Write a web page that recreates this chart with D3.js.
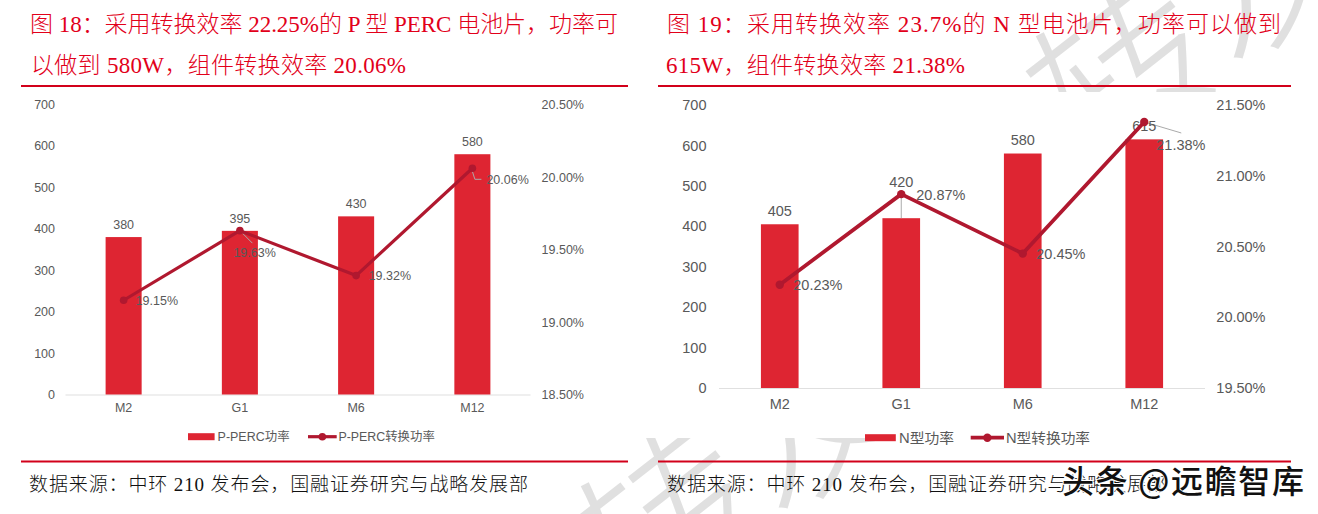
<!DOCTYPE html>
<html>
<head>
<meta charset="utf-8">
<script src="https://cdn.jsdelivr.net/npm/d3@7/dist/d3.min.js"></script>
<style>
html, body { margin: 0; padding: 0; background: #fff; }
svg { display: block; }
text { font-family: "Liberation Sans", "Noto Sans CJK SC", sans-serif; }
.head { font-family: "Liberation Serif", "Noto Sans CJK SC", serif; font-weight: 300; }
</style>
</head>
<body>
<svg id="page" width="1318" height="514"></svg>
<script>
// data
var categories = ["M2", "G1", "M6", "M12"];
var leftTicks = [0, 100, 200, 300, 400, 500, 600, 700];

var perPower = [380, 395, 430, 580];
var perEff = [19.15, 19.63, 19.32, 20.06];
var perEffTicks = [18.5, 19.0, 19.5, 20.0, 20.5];

var nPower = [405, 420, 580, 615];
var nEff = [20.23, 20.87, 20.45, 21.38];
var nEffTicks = [19.5, 20.0, 20.5, 21.0, 21.5];

var svg = d3.select("#page");

// grey watermark, only shows where the chart panels don't cover it
var defs = svg.append("defs");
defs.append("clipPath").attr("id", "wmClip")
    .selectAll("rect")
    .data([[0, 0, 1318, 92], [0, 438, 1318, 76]])
    .join("rect")
    .attr("x", function (d) { return d[0]; })
    .attr("y", function (d) { return d[1]; })
    .attr("width", function (d) { return d[2]; })
    .attr("height", function (d) { return d[3]; });

var wm = svg.append("g").attr("clip-path", "url(#wmClip)");
wm.append("text")
    .attr("transform", "translate(1095,175) rotate(-38)")
    .attr("font-size", 175).attr("fill", "#e0e0e0").attr("font-weight", 300)
    .style("font-family", "Noto Sans CJK SC")
    .text("转发");
wm.append("text")
    .attr("transform", "translate(640,625) rotate(-38)")
    .attr("font-size", 175).attr("fill", "#e0e0e0").attr("font-weight", 300)
    .style("font-family", "Noto Sans CJK SC")
    .text("转发");

function fitted(x, y, len, size, color, str) {
    svg.append("text")
        .attr("class", "head")
        .attr("x", x).attr("y", y)
        .attr("font-size", size)
        .attr("fill", color)
        .attr("textLength", len)
        .attr("lengthAdjust", "spacing")
        .attr("xml:space", "preserve")
        .style("white-space", "pre")
        .text(str);
}

function rule(x1, x2, y) {
    svg.append("line").attr("x1", x1).attr("x2", x2).attr("y1", y).attr("y2", y)
        .attr("stroke", "#d2001a").attr("stroke-width", 2);
}

function drawChart(c) {
    var g = svg.append("g");
    var x = d3.scaleBand().domain(categories).range(c.xRange).paddingInner(0.69).paddingOuter(0.345);
    var y = d3.scaleLinear().domain([0, 700]).range([c.y0, c.yTop]);
    var y2 = d3.scaleLinear().domain(d3.extent(c.effTicks)).range([c.y0, c.yTop]);
    var mid = function (i) { return x(categories[i]) + x.bandwidth() / 2; };

    // axes
    var ax = g.append("g").attr("transform", "translate(" + c.tickLeft + ",0)")
        .call(d3.axisLeft(y).tickValues(leftTicks).tickSize(0).tickPadding(0));
    var ax2 = g.append("g").attr("transform", "translate(" + c.tickRight + ",0)")
        .call(d3.axisLeft(y2).tickValues(c.effTicks).tickSize(0).tickPadding(0)
            .tickFormat(function (d) { return d.toFixed(2) + "%"; }));
    var ax3 = g.append("g").attr("transform", "translate(0," + c.y0 + ")")
        .call(d3.axisBottom(x).tickSize(0).tickPadding(c.catPad));
    [ax, ax2, ax3].forEach(function (a) {
        a.select(".domain").remove();
        a.selectAll("text").attr("fill", "#595959").attr("font-size", c.font)
            .style("font-family", "Liberation Sans");
    });
    g.append("line").attr("x1", c.xRange[0]).attr("x2", c.xRange[1])
        .attr("y1", c.y0 + 0.5).attr("y2", c.y0 + 0.5)
        .attr("stroke", "#e0e0e0").attr("stroke-width", 1.2);

    // bars
    g.selectAll("rect.bar").data(c.power).join("rect").attr("class", "bar")
        .attr("x", function (d, i) { return x(categories[i]); })
        .attr("y", function (d) { return y(d); })
        .attr("width", x.bandwidth())
        .attr("height", function (d) { return c.y0 - y(d); })
        .attr("fill", "#de2532");

    // leader lines sit under the series line
    var leader = d3.line().x(function (p) { return p[0]; }).y(function (p) { return p[1]; });
    c.leaders.forEach(function (l) {
        var i = l.i, px = mid(i), py = y2(c.eff[i]);
        g.append("path")
            .attr("d", leader(l.pts.map(function (p) { return [px + p[0], py + p[1]]; })))
            .attr("fill", "none").attr("stroke", "#aaaaaa").attr("stroke-width", 1);
    });

    // bar labels
    g.selectAll("text.pw").data(c.power).join("text").attr("class", "pw")
        .attr("x", function (d, i) { return mid(i); })
        .attr("y", function (d, i) { return c.barLabelY(y(d), i); })
        .attr("dy", "0.35em")
        .attr("text-anchor", "middle")
        .attr("fill", "#595959").attr("font-size", c.font)
        .text(function (d) { return d; });

    // conversion line
    var ln = d3.line()
        .x(function (d, i) { return mid(i); })
        .y(function (d) { return y2(d); });
    g.append("path").datum(c.eff).attr("d", ln)
        .attr("fill", "none").attr("stroke", "#b0182f")
        .attr("stroke-width", c.lineW).attr("stroke-linejoin", "round");
    g.selectAll("circle").data(c.eff).join("circle")
        .attr("cx", function (d, i) { return mid(i); })
        .attr("cy", function (d) { return y2(d); })
        .attr("r", c.dot).attr("fill", "#b0182f");

    // efficiency labels
    g.selectAll("text.ef").data(c.eff).join("text").attr("class", "ef")
        .attr("x", function (d, i) { return mid(i) + c.effOff[i][0]; })
        .attr("y", function (d, i) { return y2(d) + c.effOff[i][1]; })
        .attr("dy", "0.35em")
        .attr("fill", "#595959").attr("font-size", c.font)
        .text(function (d) { return d.toFixed(2) + "%"; });

    // legend
    var lg = c.legend;
    g.append("rect").attr("x", lg.sw[0]).attr("width", lg.sw[1] - lg.sw[0])
        .attr("y", lg.y - 3.5).attr("height", 7).attr("fill", "#de2532");
    g.append("line").attr("x1", lg.ln[0]).attr("x2", lg.ln[1]).attr("y1", lg.y).attr("y2", lg.y)
        .attr("stroke", "#b0182f").attr("stroke-width", c.lineW);
    g.append("circle").attr("cx", (lg.ln[0] + lg.ln[1]) / 2).attr("cy", lg.y)
        .attr("r", c.dot).attr("fill", "#b0182f");
    [[lg.t1, lg.name1], [lg.t2, lg.name2]].forEach(function (t) {
        g.append("text").attr("x", t[0][0]).attr("y", lg.y).attr("dy", "0.35em")
            .attr("textLength", t[0][1] - t[0][0]).attr("lengthAdjust", "spacingAndGlyphs")
            .attr("fill", "#595959").attr("font-size", c.font - 0.5).text(t[1]);
    });
}

// left panel
fitted(30, 32, 588, 23, "#e2001a", "图 18：采用转换效率 22.25%的 P 型 PERC 电池片，功率可");
fitted(31, 73, 375, 23, "#e2001a", "以做到 580W，组件转换效率 20.06%");
rule(21, 628, 86);
rule(21, 628, 461.5);
fitted(29, 491, 499, 19, "#111111", "数据来源：中环 210 发布会，国融证券研究与战略发展部");

drawChart({
    power: perPower, eff: perEff, effTicks: perEffTicks,
    xRange: [65.5, 530.5], y0: 394.5, yTop: 104.5,
    tickLeft: 55, tickRight: 584, catPad: 9, font: 12.5, lineW: 3.2, dot: 3.8,
    barLabelY: function (top) { return top - 12.5; },
    effOff: [[12, 0.5], [-6.5, 21.5], [12.5, 0], [14, 11.5]],
    leaders: [
        { i: 1, pts: [[0, 0], [12.5, 12.5]] },
        { i: 3, pts: [[-1, 0], [2.5, 11], [9, 11]] }
    ],
    legend: {
        y: 436.7, sw: [188, 214.6], ln: [308, 336.7],
        t1: [217.6, 289.6], t2: [338.4, 434.8],
        name1: "P-PERC功率", name2: "P-PERC转换功率"
    }
});

// right panel
fitted(667, 32, 614, 23, "#e2001a", "图 19：采用转换效率 23.7%的 N 型电池片，功率可以做到");
fitted(666, 73, 299, 23, "#e2001a", "615W，组件转换效率 21.38%");
rule(658, 1291, 86);
rule(658, 1291, 461.5);
fitted(667, 491, 499, 19, "#111111", "数据来源：中环 210 发布会，国融证券研究与战略发展部");

drawChart({
    power: nPower, eff: nEff, effTicks: nEffTicks,
    xRange: [719, 1205], y0: 388, yTop: 105,
    tickLeft: 706.5, tickRight: 1265.5, catPad: 11, font: 14.5, lineW: 3.8, dot: 4.2,
    barLabelY: function (top, i) { return i == 1 ? top - 36 : top - 13.8; },
    effOff: [[13.5, 0.5], [15, 1], [13.5, 0.5], [12, 22.5]],
    leaders: [
        { i: 1, pts: [[0, 0], [0, 24]] },
        { i: 3, pts: [[0, 0], [37, 11]] }
    ],
    legend: {
        y: 437.7, sw: [865, 895.8], ln: [970.7, 1004],
        t1: [899, 954], t2: [1006, 1090],
        name1: "N型功率", name2: "N型转换功率"
    }
});

// site stamp
svg.append("text")
    .attr("x", 1062).attr("y", 493)
    .attr("font-size", 32).attr("font-weight", 500)
    .attr("textLength", 242).attr("lengthAdjust", "spacing")
    .attr("fill", "#111").attr("stroke", "#fff").attr("stroke-width", 2)
    .style("paint-order", "stroke")
    .style("font-family", "Noto Sans CJK SC")
    .text("头条 @远瞻智库");
</script>
</body>
</html>
